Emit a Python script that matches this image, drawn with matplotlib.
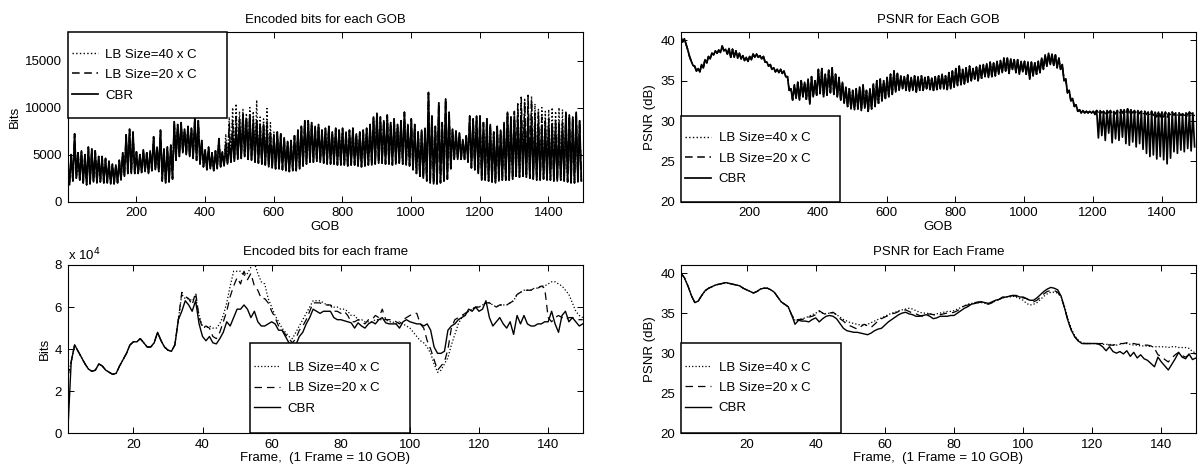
import numpy as np
import matplotlib
matplotlib.use("Agg")
import matplotlib.pyplot as plt
from matplotlib.patches import Rectangle

plt.rcParams["font.family"] = ["Liberation Sans", "DejaVu Sans"]
plt.rcParams["font.size"] = 9.5

GOBS_PER_FRAME = 10
labels = ["LB Size=40 x C", "LB Size=20 x C", "CBR"]

# ---- per-frame data (frames 1..150) ----
# encoded bits per frame, in units of 1e4
cbr_frame_bits = [
    0.0, 3.4, 4.2, 3.9, 3.6, 3.3, 3.05, 2.95, 3.0, 3.3,
    3.2, 3.0, 2.9, 2.8, 2.85, 3.2, 3.5, 3.8, 4.2, 4.35,
    4.35, 4.5, 4.3, 4.1, 4.1, 4.3, 4.8, 4.4, 4.1, 3.95,
    3.9, 4.2, 5.4, 5.8, 6.3, 6.1, 5.8, 6.3, 5.2, 4.6,
    4.4, 4.6, 4.3, 4.25, 4.5, 4.8, 5.3, 5.1, 5.5, 5.9,
    5.9, 6.1, 5.9, 5.5, 5.8, 5.3, 5.1, 5.1, 5.2, 5.3,
    5.2, 4.9, 4.9, 4.6, 4.3, 4.25, 4.2, 4.6, 4.8, 5.2,
    5.5, 5.9, 5.8, 5.7, 5.8, 5.8, 5.8, 5.5, 5.4, 5.4,
    5.35, 5.3, 5.25, 5.0, 5.25, 5.1, 5.0, 5.2, 5.3, 5.2,
    5.4, 5.5, 5.25, 5.2, 5.2, 5.2, 5.0, 5.3, 5.4, 5.3,
    5.25, 5.2, 5.2, 5.1, 5.2, 4.9, 4.1, 3.8, 3.8, 3.9,
    4.9, 5.1, 5.2, 5.4, 5.5, 5.6, 5.9, 5.8, 6.0, 5.8,
    5.9, 6.3, 5.5, 5.1, 5.3, 5.5, 5.2, 5.0, 5.3, 4.7,
    5.6, 5.2, 5.6, 5.2, 5.1, 5.1, 5.2, 5.2, 5.3, 5.3,
    5.8, 5.2, 4.8, 5.6, 5.8, 5.3, 5.5, 5.3, 5.1, 5.2,
]
# LB curves follow CBR over the first 33 frames
lb20_frame_bits = [2.7] + cbr_frame_bits[1:33] + [
    6.7, 6.5, 6.4, 6.1, 6.7, 5.5, 5.0, 5.1, 5.0, 4.6,
    4.5, 4.8, 5.3, 5.8, 6.5, 7.0, 7.4, 7.1, 7.7, 7.3,
    7.6, 7.0, 6.8, 6.4, 6.4, 6.2, 5.8, 5.5, 5.1, 4.9,
    4.7, 4.5, 4.3, 4.5, 4.9, 5.1, 5.4, 5.8, 6.2, 6.2,
    6.2, 6.1, 6.1, 6.1, 5.8, 5.8, 5.7, 5.8, 5.6, 5.3,
    5.3, 5.4, 5.3, 5.2, 5.4, 5.4, 5.6, 5.5, 5.9, 5.4,
    5.4, 5.4, 5.3, 5.2, 5.4, 5.5, 5.6, 5.7, 5.7, 5.2,
    5.0, 4.4, 4.0, 3.5, 3.0, 3.2, 3.4, 4.0, 5.0, 5.4,
    5.5, 5.6, 5.7, 5.8, 5.9, 6.0, 6.0, 6.1, 6.2, 6.2,
    6.1, 6.0, 6.1, 6.1, 6.1, 6.2, 6.3, 6.6, 6.7, 6.8,
    6.8, 6.8, 6.9, 6.9, 7.0, 6.9, 5.5, 5.3, 5.5, 5.6,
    5.5, 5.4, 5.5, 5.5, 5.4, 5.4, 5.4,
]
lb40_frame_bits = [2.7] + cbr_frame_bits[1:33] + [
    6.6, 6.4, 6.4, 6.3, 6.5, 5.6, 5.1, 5.0, 5.1, 5.0,
    5.0, 5.2, 5.6, 6.2, 7.0, 7.7, 7.7, 7.7, 7.5, 7.6,
    7.9, 8.1, 7.6, 7.2, 7.1, 6.4, 6.0, 5.6, 5.3, 5.0,
    4.8, 4.6, 4.5, 4.8, 5.1, 5.4, 5.7, 6.0, 6.3, 6.3,
    6.3, 6.2, 6.1, 6.1, 6.0, 6.0, 5.9, 5.9, 5.8, 5.6,
    5.6, 5.4, 5.4, 5.3, 5.3, 5.3, 5.4, 5.4, 5.4, 5.4,
    5.3, 5.3, 5.2, 5.3, 5.2, 5.1, 5.0, 4.8, 4.6, 4.4,
    4.3, 4.1, 3.8, 3.3, 2.9, 3.0, 3.3, 3.6, 4.2, 4.7,
    5.2, 5.5, 5.7, 5.8, 5.9, 6.0, 6.0, 6.1, 6.2, 6.2,
    6.1, 6.0, 6.1, 6.1, 6.1, 6.2, 6.3, 6.6, 6.7, 6.8,
    6.8, 6.8, 6.9, 6.9, 7.0, 7.0, 7.1, 7.2, 7.2, 7.1,
    7.0, 6.8, 6.6, 6.2, 5.8, 5.6, 5.5,
]

# PSNR per frame (dB)
cbr_frame_psnr = [
    40.0, 39.4, 38.4, 37.2, 36.3, 36.5, 37.2, 37.8, 38.1, 38.3,
    38.5, 38.6, 38.7, 38.8, 38.7, 38.6, 38.5, 38.4, 38.1, 37.9,
    37.7, 37.5, 37.7, 38.0, 38.1, 38.1, 37.9, 37.6, 37.0, 36.4,
    36.1, 35.8, 34.8, 33.6, 34.1, 34.0, 34.0, 33.9, 34.2, 34.4,
    33.9, 34.3, 34.6, 34.7, 34.6, 34.3, 33.7, 33.1, 32.8, 32.7,
    32.6, 32.6, 32.5, 32.4, 32.3, 32.5, 32.8, 33.0, 33.1, 33.5,
    33.9, 34.2, 34.5, 34.8, 35.0, 35.1, 34.9, 34.8, 34.6, 34.6,
    34.7, 34.8, 34.6, 34.3, 34.4, 34.6, 34.6, 34.6, 34.7, 34.7,
    35.0, 35.3, 35.6, 35.8, 36.1, 36.2, 36.3, 36.4, 36.3, 36.2,
    36.4, 36.6, 36.7, 36.9, 37.0, 37.1, 37.2, 37.2, 37.0, 37.0,
    36.8, 36.6, 36.6, 36.9, 37.3, 37.7, 38.0, 38.2, 38.1, 37.9,
    37.1, 35.6, 34.0, 32.8, 32.0, 31.5, 31.2, 31.2, 31.2, 31.2,
    31.2, 31.1, 30.8, 30.3, 30.8, 30.2, 30.0, 30.2, 29.9, 30.3,
    29.6, 30.1, 29.4, 29.8, 29.3, 29.1, 28.7, 28.3, 29.5, 28.9,
    28.4, 27.9, 28.6, 29.3, 30.1, 29.5, 29.3, 29.9, 29.2, 29.4,
]
lb20_frame_psnr = cbr_frame_psnr[:33] + [
    34.0, 34.2, 34.2, 34.3, 34.5, 34.6, 34.8, 35.3, 35.0, 34.8,
    35.0, 35.1, 34.8, 34.3, 34.0, 33.6, 33.4, 33.2, 33.0, 33.3,
    33.6, 33.4, 33.2, 33.6, 34.0, 34.3, 34.5, 34.7, 34.9, 35.0,
    35.2, 35.3, 35.4, 35.2, 35.0, 34.9, 34.7, 34.6, 34.8, 34.9,
    34.8, 34.7, 34.8, 34.9, 35.0, 35.0, 35.1, 35.3, 35.6, 35.9,
    36.0, 36.2, 36.3, 36.4, 36.4, 36.2, 36.1, 36.3, 36.5, 36.7,
    37.0, 37.0, 37.1, 37.2, 37.1, 37.0, 36.9, 36.8, 36.5, 36.4,
    36.6, 37.0, 37.4, 37.7, 37.8, 37.8, 37.6, 37.0, 35.6, 34.0,
    32.8, 32.0, 31.5, 31.2, 31.2, 31.2, 31.2, 31.2, 31.2, 31.2,
    31.1, 31.0, 31.0, 31.1, 31.2, 31.2, 31.3, 31.2, 31.2, 31.1,
    31.1, 31.0, 31.0, 30.9, 30.6, 29.8, 29.6, 29.2, 28.9, 29.4,
    29.8, 30.1, 29.7, 29.5, 29.8, 30.0, 29.9,
]
lb40_frame_psnr = cbr_frame_psnr[:33] + [
    34.1, 34.2, 34.3, 34.4, 34.6, 34.8, 35.0, 35.2, 35.0, 34.9,
    35.0, 35.0, 34.8, 34.5, 34.2, 34.0, 33.8, 33.7, 33.6, 33.5,
    33.5, 33.6, 33.8, 34.0, 34.2, 34.4, 34.6, 34.8, 35.0, 35.1,
    35.3, 35.4, 35.5, 35.6, 35.5, 35.3, 35.1, 35.0, 35.0, 34.9,
    34.8, 34.9, 35.0, 35.1, 35.2, 35.2, 35.3, 35.5, 35.7, 35.9,
    36.1, 36.2, 36.3, 36.3, 36.3, 36.2, 36.2, 36.3, 36.5, 36.7,
    36.9, 37.0, 37.0, 37.1, 37.0, 36.8, 36.6, 36.2, 36.0, 36.1,
    36.3, 36.7, 37.1, 37.4, 37.6, 37.6, 37.5, 37.0, 35.8, 34.2,
    33.0, 32.1, 31.6, 31.3, 31.2, 31.2, 31.2, 31.2, 31.2, 31.1,
    31.1, 31.1, 31.0, 31.0, 31.1, 31.2, 31.2, 31.1, 31.0, 31.0,
    30.9, 30.9, 30.9, 30.8, 30.8, 30.8, 30.8, 30.8, 30.7, 30.8,
    30.8, 30.7, 30.7, 30.7, 30.6, 30.2, 30.0,
]

# ---- per-GOB data, read as the high / low swing inside each frame ----
cbr_gob_peak = [
    4200, 5000, 7200, 5200, 5400, 5000, 5800, 5600, 5400, 4800,
    4800, 4600, 4300, 4000, 3900, 4400, 5200, 7100, 7700, 7400,
    5300, 5000, 5500, 5200, 5400, 6900, 5800, 7600, 5600, 5800,
    6000, 8500, 8200, 8400, 7700, 8000, 7800, 8900, 8600, 6500,
    5500, 5800, 5200, 5400, 6700, 5300, 5800, 6200, 7200, 7800,
    8500, 9200, 8800, 9200, 8400, 8600, 8000, 8200, 7600, 7000,
    7000, 7400, 7200, 6800, 6400, 6500, 7000, 7600, 8000, 8600,
    8600, 8400, 8000, 8200, 7600, 7800, 8000, 7400, 7800, 7600,
    7800, 7400, 7600, 7800, 7200, 7400, 7600, 7800, 8200, 9000,
    9400, 9000, 8600, 9200, 8400, 8800, 8200, 8600, 9500, 8200,
    8800, 8200, 7400, 7600, 7800, 11600, 9100, 8000, 10500, 8400,
    10900, 9500, 7700, 7500, 7300, 6600, 7000, 9100, 8800, 9100,
    9100, 8400, 8800, 8200, 7400, 8000, 7600, 8400, 9500, 9000,
    9100, 8800, 9000, 8600, 9000, 8800, 8100, 8400, 8000, 8200,
    8100, 8300, 7900, 8200, 8000, 9500, 9200, 9000, 9500, 8600,
]
gob_trough = [
    1800, 2200, 2500, 2300, 2000, 1800, 1900, 2100, 2000, 2100,
    2000, 2000, 1900, 1900, 2000, 2300, 2700, 3000, 3000, 3000,
    3000, 3100, 3200, 3000, 3300, 3400, 3200, 2200, 2000, 2100,
    2400, 4400, 4800, 5200, 5000, 4800, 4600, 4400, 4000, 3700,
    3400, 3500, 3300, 3500, 3700, 3800, 4000, 4200, 4300, 4500,
    4600, 4800, 4500, 4400, 4200, 4100, 4000, 3900, 3700, 3600,
    3500, 3500, 3400, 3300, 3200, 3300, 3300, 3500, 3800, 4000,
    4200, 4200, 4300, 4200, 4100, 4000, 4000, 4000, 3900, 3900,
    3900, 3800, 3900, 3900, 3800, 3700, 3800, 3900, 3900, 4000,
    4100, 4100, 4000, 4000, 3900, 4000, 4100, 4000, 3900, 3800,
    3400, 3000, 2700, 2500, 2200, 2000, 1900, 1900, 2000, 2200,
    2400, 3500, 4500, 4500, 4500, 4500, 4200, 3600, 3400, 3000,
    2300, 2300, 2200, 2100, 2000, 2200, 2300, 2300, 2300, 2400,
    2700, 2600, 2700, 2600, 2500, 2400, 2300, 2300, 2400, 2300,
    2300, 2200, 2200, 2300, 2200, 2100, 2000, 2000, 2100, 2200,
]
# LB peaks only stand out from CBR in frames 47-62 and 131-146
lb20_gob_peak = (cbr_gob_peak[:46]
                 + [6500, 8200, 8600, 9000, 8800, 9300, 9000, 9200,
                    8800, 8600, 8400, 8000, 8600, 7600, 7200, 7400]
                 + cbr_gob_peak[62:130]
                 + [9600, 10400, 11100, 10600, 11300, 10800, 9400, 9600,
                    9000, 8600, 8800, 8400, 8800, 8600, 8400, 9500]
                 + cbr_gob_peak[146:])
lb40_gob_peak = (cbr_gob_peak[:46]
                 + [7200, 9000, 10000, 10400, 9600, 9800, 9400, 10000,
                    9600, 10800, 9000, 8800, 9900, 8400, 7400, 7400]
                 + cbr_gob_peak[62:130]
                 + [9000, 9600, 10400, 11000, 10600, 11200, 10400, 9800,
                    10000, 9600, 9800, 10000, 9600, 10000, 9800, 9400]
                 + cbr_gob_peak[146:])

psnr_gob_top = [
    40.4, 40.2, 38.8, 37.4, 36.8, 36.5, 37.0, 37.6, 38.0, 38.4,
    38.7, 38.8, 39.3, 38.9, 39.0, 38.9, 38.7, 38.4, 38.1, 37.9,
    38.0, 38.3, 38.3, 38.1, 38.0, 37.3, 37.0, 36.6, 36.4, 36.4,
    36.2, 35.5, 34.0, 34.5, 34.8, 35.0, 34.8, 35.2, 35.5, 35.0,
    36.4, 36.5, 35.8, 36.3, 36.6, 35.8, 35.4, 34.8, 34.2, 34.0,
    33.8, 34.0, 34.2, 34.5, 33.8, 34.0, 34.6, 35.0, 35.2, 35.0,
    35.4, 35.8, 36.2, 35.9, 35.6, 35.5, 35.7, 35.4, 35.6, 35.5,
    35.6, 35.4, 35.5, 35.3, 35.5, 35.6, 35.8, 35.6, 36.0, 36.2,
    36.5, 36.8, 36.4, 36.6, 36.8, 36.5, 36.7, 36.9, 37.0, 37.1,
    37.3, 37.2, 37.4, 37.5, 37.8, 37.8, 37.7, 37.6, 37.6, 37.4,
    37.4, 37.3, 37.3, 37.2, 37.4, 37.8, 38.2, 38.4, 38.3, 38.2,
    37.8, 37.0, 35.2, 33.8, 32.8, 32.0, 31.4, 31.3, 31.2, 31.2,
    31.2, 31.3, 31.3, 31.2, 31.3, 31.3, 31.2, 31.3, 31.4, 31.4,
    31.5, 31.4, 31.3, 31.3, 31.2, 31.2, 31.1, 31.2, 31.1, 31.1,
    31.1, 31.1, 31.0, 31.1, 31.0, 31.0, 30.9, 31.0, 31.1, 31.0,
]
cbr_psnr_gob_low = [
    39.8, 39.5, 38.0, 36.9, 36.2, 36.1, 36.6, 37.2, 37.7, 38.2,
    38.4, 38.5, 38.7, 38.3, 37.9, 37.9, 37.8, 37.7, 37.5, 37.4,
    37.6, 37.9, 37.9, 37.7, 37.3, 36.8, 36.4, 36.1, 36.0, 35.9,
    35.5, 33.8, 32.6, 32.8, 32.6, 33.0, 32.7, 32.1, 33.0, 33.2,
    33.4, 33.0, 33.2, 33.5, 33.3, 33.0, 32.6, 32.2, 31.8, 31.5,
    31.4, 31.5, 31.3, 31.6, 31.2, 31.5, 31.8, 32.2, 32.5, 32.8,
    33.0, 33.3, 33.6, 33.8, 34.0, 33.8, 33.7, 33.8, 33.6, 33.8,
    33.8, 34.0, 33.9, 33.8, 33.9, 34.0, 34.0, 33.9, 34.0, 34.2,
    34.4, 34.5, 34.6, 34.8, 35.0, 35.2, 35.0, 35.3, 35.5, 35.4,
    35.5, 35.6, 35.8, 36.0, 36.2, 35.9, 36.4, 36.0, 35.8, 36.1,
    35.8, 35.2, 35.6, 35.8, 36.0, 36.4, 36.8, 37.0, 36.9, 36.6,
    36.4, 35.0, 33.5, 32.5, 31.8, 31.2, 31.0, 31.0, 31.0, 31.0,
    30.8, 27.9, 28.2, 27.6, 28.5, 27.3, 27.8, 27.6, 28.0, 27.2,
    27.0, 27.4, 26.8, 27.2, 26.5, 26.0, 25.6, 25.8, 25.3, 25.6,
    25.2, 24.7, 25.4, 26.2, 26.0, 26.4, 26.2, 26.6, 26.3, 26.8,
]
# LB lows stay in the band just under the top after GOB 1200
lb20_psnr_gob_low = cbr_psnr_gob_low[:120] + [
    31.0, 31.0, 31.0, 30.9, 31.0, 30.9, 30.9, 31.0, 31.0, 31.0,
    31.1, 31.0, 30.9, 30.9, 30.9, 30.8, 30.7, 30.6, 30.5, 30.5,
    30.5, 30.4, 30.6, 30.7, 30.8, 30.7, 30.7, 30.8, 30.9, 30.8,
]
lb40_psnr_gob_low = cbr_psnr_gob_low[:120] + [
    31.0, 31.0, 31.0, 30.9, 31.0, 30.9, 30.9, 31.0, 31.0, 31.0,
    31.0, 30.9, 30.9, 30.9, 30.9, 30.9, 30.8, 30.8, 30.8, 30.8,
    30.8, 30.7, 30.8, 30.8, 30.7, 30.7, 30.7, 30.6, 30.6, 30.6,
]


def zigzag(high, low):
    # each frame: its high GOB value, then its low GOB value
    start = np.arange(len(high)) * GOBS_PER_FRAME + 1
    x = np.column_stack([start, start + GOBS_PER_FRAME // 2]).ravel()
    y = np.column_stack([high, low]).ravel()
    return x, y


styles = [dict(ls=":", lw=0.9), dict(ls="--", dashes=(6, 4), lw=0.9), dict(ls="-", lw=1.0)]
gob_styles = [dict(ls=":", lw=1.0), dict(ls="--", dashes=(5, 3), lw=1.1), dict(ls="-", lw=1.25)]


def style_axes(ax):
    ax.tick_params(direction="in", top=True, right=True, length=4, width=0.7, pad=4)
    for s in ax.spines.values():
        s.set_linewidth(0.8)


def add_legend(ax, rect):
    ax.add_patch(Rectangle(rect[:2], rect[2], rect[3], transform=ax.transAxes,
                           facecolor="white", edgecolor="black", lw=1.1,
                           zorder=3, clip_on=False))
    ax.legend(labels, loc="center left", bbox_to_anchor=rect, frameon=False,
              borderaxespad=0, borderpad=0.3, handlelength=2.0, handletextpad=0.55,
              labelspacing=0.62, fontsize=9.5)


fig = plt.figure(figsize=(12.01, 4.70), dpi=100)
ax1 = fig.add_axes([0.0564, 0.5709, 0.4288, 0.3604])
ax2 = fig.add_axes([0.5670, 0.5709, 0.4288, 0.3604])
ax3 = fig.add_axes([0.0564, 0.0781, 0.4288, 0.3581])
ax4 = fig.add_axes([0.5670, 0.0781, 0.4288, 0.3581])

# encoded bits for each GOB
for (hi, lo), st in zip([(lb40_gob_peak, gob_trough), (lb20_gob_peak, gob_trough),
                         (cbr_gob_peak, gob_trough)], gob_styles):
    x, y = zigzag(hi, lo)
    ax1.plot(x, y, color="black", **st)
ax1.set_xlim(1, 1500)
ax1.set_ylim(0, 18000)
ax1.set_xticks(range(200, 1401, 200))
ax1.set_yticks([0, 5000, 10000, 15000])
ax1.set_title("Encoded bits for each GOB", fontsize=9.5, pad=7)
ax1.set_xlabel("GOB", labelpad=1)
ax1.set_ylabel("Bits", labelpad=3)
add_legend(ax1, (0, 0.496, 0.31, 0.504))

# PSNR for each GOB
for (hi, lo), st in zip([(psnr_gob_top, lb40_psnr_gob_low), (psnr_gob_top, lb20_psnr_gob_low),
                         (psnr_gob_top, cbr_psnr_gob_low)], gob_styles):
    x, y = zigzag(hi, lo)
    ax2.plot(x, y, color="black", **st)
ax2.set_xlim(1, 1500)
ax2.set_ylim(20, 41)
ax2.set_xticks(range(200, 1401, 200))
ax2.set_yticks(range(20, 41, 5))
ax2.set_title("PSNR for Each GOB", fontsize=9.5, pad=7)
ax2.set_xlabel("GOB", labelpad=1)
ax2.set_ylabel("PSNR (dB)", labelpad=3)
add_legend(ax2, (0, 0, 0.309, 0.508))

# encoded bits for each frame
frames = np.arange(1, len(cbr_frame_bits) + 1)
for series, st in zip([lb40_frame_bits, lb20_frame_bits, cbr_frame_bits], styles):
    ax3.plot(frames, series, color="black", **st)
ax3.set_xlim(1, 150)
ax3.set_ylim(0, 8)
ax3.set_xticks(range(20, 141, 20))
ax3.set_yticks(range(0, 9, 2))
ax3.set_title("Encoded bits for each frame", fontsize=9.5, pad=7)
ax3.set_xlabel("Frame,  (1 Frame = 10 GOB)", labelpad=1)
ax3.set_ylabel("Bits", labelpad=3)
ax3.text(0, 1.012, r"x 10$^{4}$", transform=ax3.transAxes, ha="left", va="bottom", fontsize=9.5)
add_legend(ax3, (0.354, 0, 0.31, 0.538))

# PSNR for each frame
for series, st in zip([lb40_frame_psnr, lb20_frame_psnr, cbr_frame_psnr], styles):
    ax4.plot(frames, series, color="black", **st)
ax4.set_xlim(1, 150)
ax4.set_ylim(20, 41)
ax4.set_xticks(range(20, 141, 20))
ax4.set_yticks(range(20, 41, 5))
ax4.set_title("PSNR for Each Frame", fontsize=9.5, pad=7)
ax4.set_xlabel("Frame,  (1 Frame = 10 GOB)", labelpad=1)
ax4.set_ylabel("PSNR (dB)", labelpad=3)
add_legend(ax4, (0, 0, 0.31, 0.539))

for ax in (ax1, ax2, ax3, ax4):
    style_axes(ax)

fig.savefig("out.png", dpi=100)
